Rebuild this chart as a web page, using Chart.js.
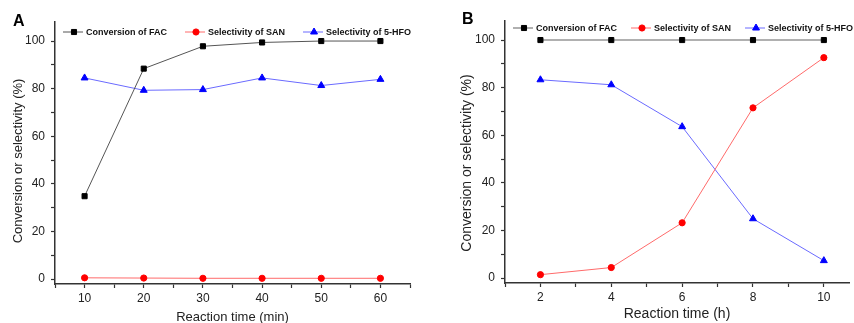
<!DOCTYPE html>
<html>
<head>
<meta charset="utf-8">
<script src="https://cdn.jsdelivr.net/npm/chart.js@4.4.0/dist/chart.umd.min.js"></script>
<style>
  html, body { margin: 0; padding: 0; background: #fff; overflow: hidden; }
  #wrap { position: relative; width: 854px; height: 323px; overflow: hidden; }
  .panel { position: absolute; top: 0; width: 427px; height: 330px; }
  .lbl { position: absolute; font: bold 16px "Liberation Sans", Arial, sans-serif; color: #000; }
</style>
</head>
<body>
<div id="wrap">
  <div class="panel" style="left:0"><canvas id="chartA"></canvas></div>
  <div class="panel" style="left:427px"><canvas id="chartB"></canvas></div>
  <div class="lbl" style="left:13px;top:12px">A</div>
  <div class="lbl" style="left:462px;top:10px">B</div>
</div>
<script>
// panel A : reaction time in min
const timeA = [10, 20, 30, 40, 50, 60]
const facA = [34.8, 88.4, 97.8, 99.4, 100, 100]
const sanA = [0.5, 0.4, 0.3, 0.3, 0.3, 0.3]
const hfoA = [84.5, 79.3, 79.6, 84.5, 81.3, 83.9]

// panel B : reaction time in h
const timeB = [2, 4, 6, 8, 10]
const facB = [100, 100, 100, 100, 100]
const sanB = [1.4, 4.4, 23.2, 71.5, 92.6]
const hfoB = [83.3, 81.2, 63.6, 24.9, 7.3]

const seriesNames = ["Conversion of FAC", "Selectivity of SAN", "Selectivity of 5-HFO"]
const yTicks = [0, 10, 20, 30, 40, 50, 60, 70, 80, 90, 100]
const yTitle = 'Conversion or selectivity (%)'

const FONT = '"Liberation Sans", Arial, sans-serif'

const toXY = (xs, ys) => xs.map((x, i) => ({ x: x, y: ys[i] }))

function drawMarker(ctx, ds, x, y) {
    ctx.save()
    ctx.fillStyle = ds.pointBackgroundColor
    ctx.strokeStyle = ds.pointBorderColor
    ctx.lineWidth = 1
    Chart.helpers.drawPoint(ctx, { pointStyle: ds.pointStyle, radius: ds.pointRadius, borderWidth: 1 }, x, y)
    ctx.restore()
}

// legend drawn inside the plot area
const insideLegend = {
    id: 'insideLegend',
    afterDraw(chart, args, opts) {
        const ctx = chart.ctx
        ctx.save()
        ctx.font = 'bold ' + opts.fontSize + 'px ' + FONT
        ctx.textBaseline = 'middle'
        let x = opts.x
        const y = opts.y
        chart.data.datasets.forEach(ds => {
            ctx.strokeStyle = ds.borderColor
            ctx.lineWidth = ds.borderWidth
            ctx.beginPath()
            ctx.moveTo(x, y)
            ctx.lineTo(x + 20, y)
            ctx.stroke()
            drawMarker(ctx, ds, x + 11, y)
            ctx.fillStyle = '#111'
            ctx.fillText(ds.label, x + 23, y + 0.5)
            x += 23 + ctx.measureText(ds.label).width + opts.gap
        })
        ctx.restore()
    }
}

// rotated y title, placed a bit below the axis centre like the original
const sideTitle = {
    id: 'sideTitle',
    afterDraw(chart, args, opts) {
        const ctx = chart.ctx
        ctx.save()
        ctx.translate(opts.x, opts.y)
        ctx.rotate(-Math.PI / 2)
        ctx.font = opts.size + 'px ' + FONT
        ctx.fillStyle = '#222'
        ctx.textAlign = 'center'
        ctx.textBaseline = 'middle'
        ctx.fillText(opts.text, 0, 0)
        ctx.restore()
    }
}

const makeChart = (id, p) => {
    const datasets = [
        {
            label: seriesNames[0],
            data: toXY(p.time, p.fac),
            borderColor: p.facLine,
            borderWidth: p.facWidth,
            pointStyle: 'rect',
            pointRadius: 3.6,
            pointBackgroundColor: '#000',
            pointBorderColor: '#000',
            pointBorderWidth: 1,
        },
        {
            label: seriesNames[1],
            data: toXY(p.time, p.san),
            borderColor: '#ff6a6a',
            borderWidth: 1,
            pointStyle: 'circle',
            pointRadius: 3.1,
            pointBackgroundColor: '#ff0000',
            pointBorderColor: '#ff0000',
            pointBorderWidth: 1,
        },
        {
            label: seriesNames[2],
            data: toXY(p.time, p.hfo),
            borderColor: '#6a6aff',
            borderWidth: 1,
            pointStyle: 'triangle',
            pointRadius: 4,
            pointBackgroundColor: '#0000ff',
            pointBorderColor: '#0000ff',
            pointBorderWidth: 1,
        },
    ]

    return new Chart(document.getElementById(id), {
        type: 'line',
        data: { datasets: datasets },
        plugins: [insideLegend, sideTitle],
        options: {
            responsive: true,
            maintainAspectRatio: false,
            animation: false,
            layout: { padding: { left: 0, right: p.padRight, top: p.padTop, bottom: 0 } },
            plugins: {
                legend: { display: false },
                tooltip: { enabled: false },
                insideLegend: p.legend,
                sideTitle: { text: yTitle, x: p.yTitleX, y: p.yTitleY, size: p.titleSize },
            },
            scales: {
                x: {
                    type: 'linear',
                    min: p.xMin,
                    max: p.xMax,
                    afterBuildTicks: s => { s.ticks = p.xTicks.map(v => ({ value: v })) },
                    afterFit: s => { s.height = p.xHeight; s.paddingRight = 0 },
                    border: { color: '#333', width: 1.5 },
                    grid: { drawOnChartArea: false, color: '#333', tickLength: 4, tickWidth: 1.2 },
                    ticks: {
                        padding: 3,
                        maxRotation: 0,
                        autoSkip: false,
                        color: '#222',
                        font: { family: FONT, size: 12 },
                        callback: v => (v % p.xLabelEvery === 0 ? v : ''),
                    },
                    title: {
                        display: true,
                        text: p.xTitle,
                        color: '#222',
                        font: { family: FONT, size: p.titleSize },
                        padding: { top: 0, bottom: p.xTitlePad },
                    },
                },
                y: {
                    min: -2.1,
                    max: 108,
                    afterBuildTicks: s => { s.ticks = yTicks.map(v => ({ value: v })) },
                    afterFit: s => { s.width = p.yWidth },
                    border: { color: '#333', width: 1.5 },
                    grid: { drawOnChartArea: false, color: '#333', tickLength: 4, tickWidth: 1.2 },
                    ticks: {
                        padding: 6,
                        color: '#222',
                        font: { family: FONT, size: 12 },
                        callback: v => (v % 20 === 0 ? v : ''),
                    },
                },
            },
        },
    })
}

makeChart('chartA', {
    time: timeA, fac: facA, san: sanA, hfo: hfoA,
    facLine: '#555', facWidth: 1,
    xMin: 5, xMax: 65,
    xTicks: [5, 10, 15, 20, 25, 30, 35, 40, 45, 50, 55, 60, 65],
    xLabelEvery: 10,
    xTitle: 'Reaction time (min)',
    titleSize: 13,
    xTitlePad: 5,
    yTitleX: 18,
    yTitleY: 161,
    xHeight: 46,
    yWidth: 55,
    padRight: 17,
    padTop: 22,
    legend: { x: 63, y: 32, gap: 18, fontSize: 9 },
})

makeChart('chartB', {
    time: timeB, fac: facB, san: sanB, hfo: hfoB,
    facLine: '#b0b0b0', facWidth: 2,
    xMin: 1, xMax: 10.71,
    xTicks: [1, 2, 3, 4, 5, 6, 7, 8, 9, 10],
    xLabelEvery: 2,
    xTitle: 'Reaction time (h)',
    titleSize: 14,
    xTitlePad: 7,
    yTitleX: 40,
    yTitleY: 163,
    xHeight: 47,
    yWidth: 78,
    padRight: 0,
    padTop: 21,
    legend: { x: 86, y: 28, gap: 14, fontSize: 9 },
})
</script>
</body>
</html>
